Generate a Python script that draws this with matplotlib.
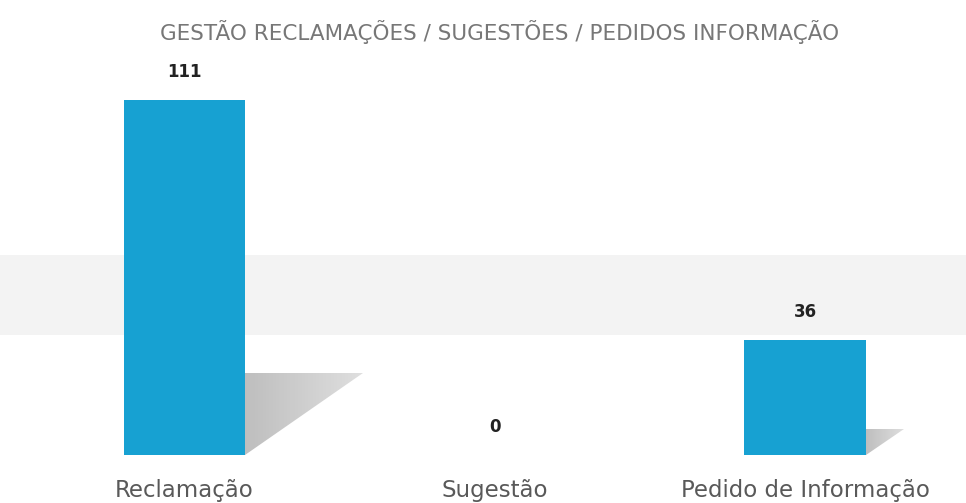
import numpy as np
import matplotlib.pyplot as plt
from matplotlib.patches import Polygon, Rectangle

# dados
categorias = ['Reclamação', 'Sugestão', 'Pedido de Informação']
valores = [111, 0, 36]
titulo = 'GESTÃO RECLAMAÇÕES / SUGESTÕES / PEDIDOS INFORMAÇÃO'

plt.rcParams['font.family'] = ['DejaVu Sans']

fig = plt.figure(figsize=(9.66, 5.03), dpi=100)
fig.patch.set_facecolor('white')

# faixa cinzenta clara de fundo (atrás de tudo)
fig.patches.append(Rectangle((0, 0.334), 1, 0.16, transform=fig.transFigure,
                             facecolor='#f3f3f3', edgecolor='none', zorder=-5))

ax = fig.add_axes([0.030, 0.0954, 0.964, 0.795])
ax.set_facecolor('none')

x = list(range(len(categorias)))
largura = 0.39
ax.bar(x, valores, width=largura, color='#17a1d2', zorder=3)

# sombras com gradiente
grad = np.linspace(1, 0, 64)[None, :]
for xi, v in zip(x, valores):
    if v == 0:
        continue
    dx = 0.38 * v / max(valores)
    dy = 0.23 * v
    xr = xi + largura / 2
    poly = Polygon([(xr, 0), (xr, dy), (xr + dx, dy)], closed=True,
                   facecolor='none', edgecolor='none')
    ax.add_patch(poly)
    rgba = np.zeros((1, 64, 4))
    rgba[..., :3] = 0.58
    rgba[..., 3] = 0.3 + 0.3 * grad
    im = ax.imshow(rgba, extent=[xr, xr + dx, 0, dy], aspect='auto',
                   interpolation='bilinear', zorder=2)
    im.set_clip_path(poly)

for xi, v in zip(x, valores):
    ax.annotate(str(v), (xi, v), xytext=(0, 20), textcoords='offset points',
                ha='center', va='center', fontsize=12, color='#222222',
                fontweight='semibold')

ax.set_xlim(-0.5, 2.5)
ax.set_ylim(0, 125)
ax.set_xticks(x)
ax.set_xticklabels(categorias, fontsize=16.5, color='#595959')
ax.tick_params(axis='x', length=0, pad=17)
ax.set_yticks([])
for s in ax.spines.values():
    s.set_visible(False)

fig.text(0.517, 0.936, titulo, ha='center', va='center', fontsize=15.5,
         color='#777777')

fig.savefig('out.png', dpi=100)
